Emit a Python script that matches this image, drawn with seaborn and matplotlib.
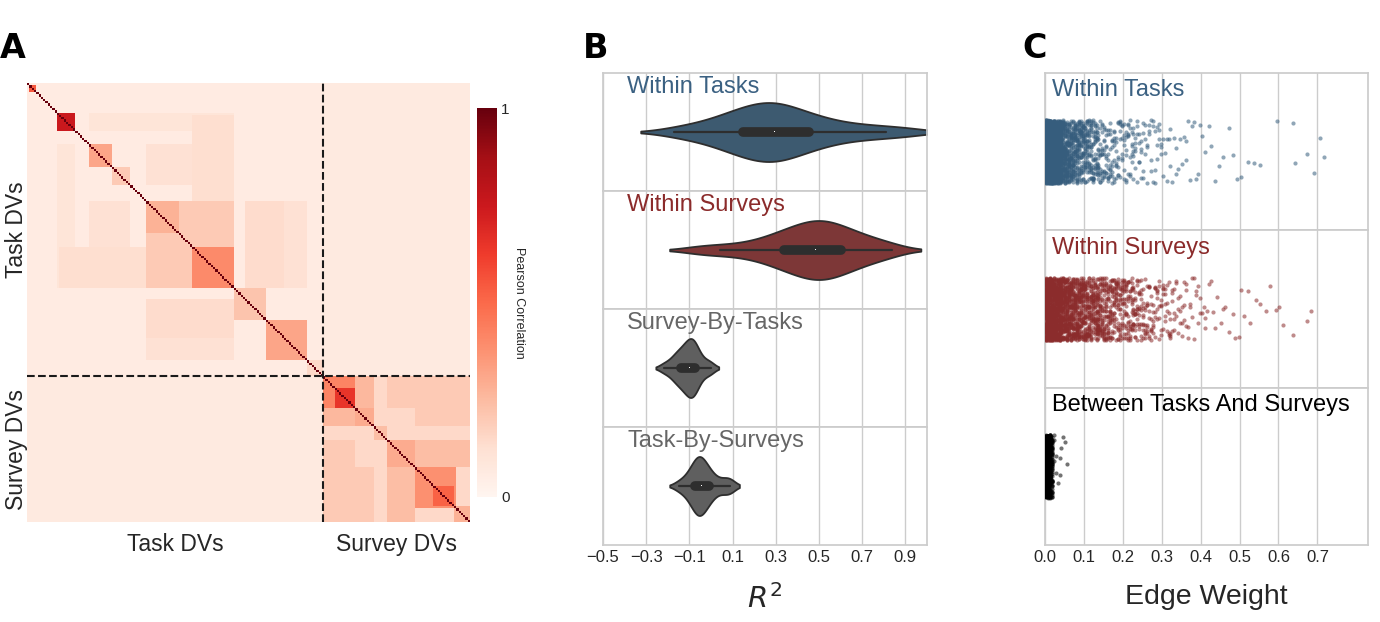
import numpy as np
import pandas as pd
import seaborn as sns
import matplotlib.pyplot as plt

# ---------------- data ----------------
# A: correlation matrix, described as block structure
n_task = 129
n_survey = 64
task_bg = 0.06
survey_bg = 0.15
between_bg = 0.07
# (start, stop, correlation) inside the task DVs
task_blocks = [(1, 4, 0.55), (13, 21, 0.75), (27, 37, 0.32), (37, 45, 0.2),
               (52, 66, 0.28), (72, 90, 0.4), (90, 104, 0.22), (104, 122, 0.32),
               (122, 129, 0.15)]
# (start, stop, correlation) inside the survey DVs
survey_blocks = [(0, 14, 0.42), (5, 14, 0.65), (14, 22, 0.3), (22, 28, 0.24),
                 (28, 40, 0.3), (40, 58, 0.38), (48, 57, 0.52), (57, 64, 0.28)]
# (row0, row1, col0, col1, correlation) off-diagonal clusters
task_links = [(52, 90, 52, 90, 0.2), (72, 90, 14, 52, 0.13), (52, 90, 95, 112, 0.14),
              (27, 45, 52, 90, 0.12), (104, 122, 52, 90, 0.12), (13, 21, 27, 90, 0.1)]
survey_links = [(14, 22, 0, 14, 0.26), (28, 64, 0, 14, 0.2), (40, 64, 28, 40, 0.24),
                (40, 64, 14, 22, 0.2)]

# B: out-of-sample R^2 per group
r2_within_tasks = [-0.17, -0.08, -0.02, 0.03, 0.07, 0.10, 0.12, 0.14, 0.17, 0.19,
                   0.21, 0.23, 0.25, 0.27, 0.28, 0.30, 0.31, 0.33, 0.35, 0.37,
                   0.40, 0.43, 0.46, 0.49, 0.53, 0.58, 0.65, 0.72, 0.81, 0.92]
r2_within_surveys = [-0.06, 0.04, 0.13, 0.20, 0.25, 0.29, 0.32, 0.34, 0.37, 0.39,
                     0.41, 0.43, 0.45, 0.47, 0.48, 0.50, 0.51, 0.52, 0.54, 0.56,
                     0.58, 0.60, 0.62, 0.64, 0.67, 0.70, 0.74, 0.79, 0.84]
r2_survey_by_tasks = [-0.22, -0.19, -0.17, -0.16, -0.15, -0.14, -0.13, -0.12, -0.115, -0.11,
                      -0.10, -0.095, -0.09, -0.085, -0.08, -0.075, -0.07, -0.06, -0.045,
                      -0.02, 0.0]
r2_task_by_surveys = [-0.15, -0.12, -0.10, -0.09, -0.08, -0.07, -0.065, -0.06, -0.055,
                      -0.05, -0.045, -0.04, -0.03, -0.02, -0.01, 0.0, 0.02, 0.05, 0.08, 0.09]

# C: edge weights, counts per 0.005 bin starting at 0
edge_bin = 0.005
edges_within_tasks = [360, 300, 240, 200, 170, 150, 130, 110,
                      70, 60, 54, 48, 44, 40, 36, 34, 32, 30, 28, 26, 24, 22, 20, 20, 18, 18,
                      13, 12, 11, 11, 10, 9, 9, 9, 8, 8, 7, 7, 6, 6,
                      6, 6, 6, 5, 5, 5, 5, 4, 4, 4, 4, 3, 3, 3, 3, 3, 3, 3, 3, 3,
                      2, 1, 2, 1, 2, 1, 1, 2, 1, 1, 1, 1, 2, 1, 1, 1, 1, 1, 1, 1,
                      1, 0, 1, 0, 1, 1, 0, 1, 0, 1, 0, 1, 0, 0, 1, 0, 1, 0, 1, 0,
                      1, 0, 0, 0, 1, 0, 0, 1, 0, 0, 1, 0, 0, 0, 0, 0, 0, 0, 0, 1,
                      0, 0, 0, 0, 0, 0, 0, 1, 1, 0, 0, 0, 0, 0, 1, 0, 0, 0, 1, 0,
                      0, 1, 0, 1]
edges_within_surveys = [150, 130, 115, 100, 92, 85, 78, 72, 66, 62, 58, 55, 52, 49, 46, 44, 42, 40, 38, 36,
                        34, 32, 30, 29, 28, 27, 26, 25, 24, 23, 22, 21, 20, 19, 18, 17, 17, 16, 15, 15,
                        14, 14, 13, 12, 12, 11, 11, 10, 10, 9,
                        9, 8, 8, 7, 7, 6, 6, 6, 5, 5,
                        5, 5, 4, 4, 4, 4, 4, 3, 3, 3, 3, 3, 3, 2, 2, 2, 2, 2, 2, 2,
                        1, 1, 2, 1, 1, 1, 1, 1, 1, 0, 1, 1, 1, 0, 1, 0, 1, 1, 0, 1,
                        1, 0, 1, 0, 1, 1, 0, 0, 1, 0, 1, 0, 0, 1, 0, 1, 0, 0, 1, 0,
                        1, 0, 1, 0, 0, 0, 0, 1, 0, 0, 0, 0, 0, 0, 1, 0, 1]
edges_between = [300, 250, 150, 50, 3, 2, 1, 2, 1, 1, 1, 1]

blue = '#3d5a70'
red = '#7d3737'
grey = '#5f5f5f'
blue_txt = '#3b6182'
red_txt = '#8b2b2b'
grey_txt = '#666666'

# ---------------- style ----------------
sns.set_theme(style="whitegrid")
plt.rcParams['font.family'] = ['Liberation Sans', 'DejaVu Sans']
np.random.seed(3)

fig = plt.figure(figsize=(13.8, 6.22), dpi=100)

# ---------------- A: heatmap ----------------
n_all = n_task + n_survey
corr = np.full((n_all, n_all), between_bg)
corr[:n_task, :n_task] = task_bg
corr[n_task:, n_task:] = survey_bg
for r0, r1, c0, c1, v in task_links:
    corr[r0:r1, c0:c1] = np.maximum(corr[r0:r1, c0:c1], v)
    corr[c0:c1, r0:r1] = np.maximum(corr[c0:c1, r0:r1], v)
o = n_task
for r0, r1, c0, c1, v in survey_links:
    corr[o + r0:o + r1, o + c0:o + c1] = np.maximum(corr[o + r0:o + r1, o + c0:o + c1], v)
    corr[o + c0:o + c1, o + r0:o + r1] = np.maximum(corr[o + c0:o + c1, o + r0:o + r1], v)
for s, e, v in task_blocks:
    corr[s:e, s:e] = np.maximum(corr[s:e, s:e], v)
for s, e, v in survey_blocks:
    corr[o + s:o + e, o + s:o + e] = np.maximum(corr[o + s:o + e, o + s:o + e], v)
np.fill_diagonal(corr, 1.0)

ax_a = fig.add_axes([0.0196, 0.1608, 0.321, 0.7058])
cax = fig.add_axes([0.3457, 0.201, 0.0144, 0.625])
sns.heatmap(corr, cmap='Reds', vmin=0, vmax=1, ax=ax_a, cbar_ax=cax,
            xticklabels=False, yticklabels=False, rasterized=True)
ax_a.axvline(n_task, color='k', ls='--', lw=1.5)
ax_a.axhline(n_task, color='k', ls='--', lw=1.5)
ax_a.set_xticks([n_task / 2, n_task + n_survey / 2])
ax_a.set_xticklabels(['Task DVs', 'Survey DVs'], fontsize=16.5)
ax_a.set_yticks([n_task / 2, n_task + n_survey / 2])
ax_a.set_yticklabels(['Task DVs', 'Survey DVs'], fontsize=16.5, rotation=90, va='center')
ax_a.tick_params(axis='x', length=0, pad=8)
ax_a.tick_params(axis='y', length=0, pad=-1)
cax.set_yticks([0, 1])
cax.set_yticklabels(['0', '1'], fontsize=11)
cax.tick_params(length=0, pad=3)
cax.set_ylabel('Pearson Correlation', rotation=270, fontsize=9, va='center')
cax.yaxis.set_label_coords(2.1, 0.5)
for sp in cax.spines.values():
    sp.set_visible(False)

# ---------------- B: violins ----------------
b_groups = [('Within Tasks', r2_within_tasks, blue, blue_txt),
            ('Within Surveys', r2_within_surveys, red, red_txt),
            ('Survey-By-Tasks', r2_survey_by_tasks, grey, grey_txt),
            ('Task-By-Surveys', r2_task_by_surveys, grey, grey_txt)]
b_left, b_w, b_top, b_bot = 0.437, 0.2347, 0.8826, 0.1238
b_h = (b_top - b_bot) / len(b_groups)
for i, (name, vals, col, tcol) in enumerate(b_groups):
    ax = fig.add_axes([b_left, b_top - (i + 1) * b_h, b_w, b_h])
    sns.violinplot(x=vals, ax=ax, color=col, saturation=1, width=0.5,
                   inner='box', linewidth=1.3, linecolor='#2e2e2e',
                   bw_adjust=0.8, cut=1.5,
                   inner_kws=dict(box_width=7, whis_width=1.6, marker=','))
    ax.set_xlim(-0.5, 1.0)
    ax.set_ylim(0.5, -0.5)
    ax.set_yticks([0])
    ax.set_yticklabels([])
    ax.set_xticks([-0.5, -0.3, -0.1, 0.1, 0.3, 0.5, 0.7, 0.9])
    ax.tick_params(axis='x', labelsize=12, length=0)
    if i < len(b_groups) - 1:
        ax.set_xticklabels([])
    else:
        ax.set_xlabel('$R^2$', fontsize=21, labelpad=14)
    ax.text(0.074, 0.88, name, transform=ax.transAxes, color=tcol,
            fontsize=17, va='center', ha='left')

# ---------------- C: edge weights ----------------
c_groups = [('Within Tasks', edges_within_tasks, '#365d7d', blue_txt),
            ('Within Surveys', edges_within_surveys, '#8b2c2c', red_txt),
            ('Between Tasks And Surveys', edges_between, 'black', 'black')]
c_left, c_w = 0.7572, 0.2341
c_h = (b_top - b_bot) / len(c_groups)
for i, (name, counts, col, tcol) in enumerate(c_groups):
    ax = fig.add_axes([c_left, b_top - (i + 1) * c_h, c_w, c_h])
    centers = np.arange(len(counts)) * edge_bin + edge_bin / 2
    weights = pd.Series(np.repeat(centers, counts), name='weight')
    sns.stripplot(x=weights, ax=ax, color=col, size=3, alpha=0.55,
                  jitter=0.2, linewidth=0)
    ax.set_xlim(0, 0.83)
    ax.set_ylim(0.5, -0.5)
    ax.set_yticks([0])
    ax.set_yticklabels([])
    ax.set_xticks([0.0, 0.1, 0.2, 0.3, 0.4, 0.5, 0.6, 0.7])
    ax.tick_params(axis='x', labelsize=12, length=0)
    ax.set_xlabel('')
    if i < len(c_groups) - 1:
        ax.set_xticklabels([])
    else:
        ax.set_xlabel('Edge Weight', fontsize=20.5, labelpad=14)
    ax.text(0.022, 0.89, name, transform=ax.transAxes, color=tcol,
            fontsize=17, va='center', ha='left')

# panel letters
for x, letter in [(0.0, 'A'), (0.4225, 'B'), (0.741, 'C')]:
    fig.text(x, 0.922, letter, fontsize=24, fontweight='heavy', color='black',
             family='DejaVu Sans', va='center', ha='left')

fig.savefig('out.png', dpi=100)
